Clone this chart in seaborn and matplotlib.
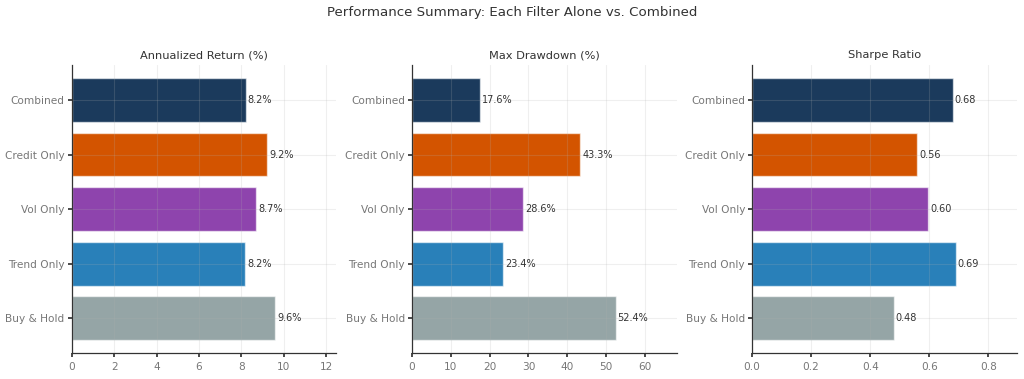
import matplotlib
matplotlib.use("Agg")
import matplotlib.pyplot as plt
import seaborn as sns
import pandas as pd

strategies = ["Combined", "Credit Only", "Vol Only", "Trend Only", "Buy & Hold"]
colors = ["#1b3a5c", "#d35400", "#8e44ad", "#2980b9", "#95a5a6"]
annual_return = [8.2, 9.2, 8.7, 8.17, 9.6]
max_drawdown = [17.6, 43.3, 28.6, 23.4, 52.4]
sharpe = [0.68, 0.56, 0.596, 0.69, 0.48]

titles = ["Annualized Return (%)", "Max Drawdown (%)", "Sharpe Ratio"]
fmts = ["{:.1f}%", "{:.1f}%", "{:.2f}"]
series = [annual_return, max_drawdown, sharpe]

sns.set_theme(style="whitegrid")
plt.rcParams["font.family"] = ["DejaVu Sans"]

fig, axes = plt.subplots(1, 3, figsize=(10.24, 3.79), dpi=100)
fig.subplots_adjust(left=0.070, right=0.993, top=0.828, bottom=0.068, wspace=0.285)

for ax, vals, title, fmt in zip(axes, series, titles, fmts):
    df = pd.DataFrame({"strategy": strategies, "value": vals})
    sns.barplot(data=df, y="strategy", x="value", hue="strategy", order=strategies,
                hue_order=strategies, palette=colors, orient="h", ax=ax,
                width=0.8, edgecolor=(1, 1, 1, 0.6), linewidth=1,
                saturation=1, legend=False)
    vmax = max(vals)
    ax.set_xlim(0, vmax * 1.3)
    ax.set_ylim(4.64, -0.64)
    for i, v in enumerate(vals):
        ax.text(v + vmax * 0.01, i, fmt.format(v), va="center", ha="left",
                fontsize=7, color="#333333")
    ax.set_title(title, fontsize=8.2, color="#333333", pad=5)
    ax.set_xlabel("")
    ax.set_ylabel("")
    ax.set_facecolor("white")
    ax.grid(True, color="#b0b0b0", alpha=0.2, linewidth=0.8)
    ax.set_axisbelow(False)
    for s in ["top", "right"]:
        ax.spines[s].set_visible(False)
    for s in ["left", "bottom"]:
        ax.spines[s].set_visible(True)
        ax.spines[s].set_color("#333333")
        ax.spines[s].set_linewidth(0.9)
        ax.spines[s].set_zorder(5)
    ax.tick_params(axis="both", labelsize=7.6, colors="#777777", length=3,
                   left=True, bottom=True, color="#333333")
    ax.tick_params(axis="y", pad=2)

fig.suptitle("Performance Summary: Each Filter Alone vs. Combined", fontsize=9.6,
             color="#333333", y=0.985)
fig.savefig("out.png", dpi=100, facecolor="white")
